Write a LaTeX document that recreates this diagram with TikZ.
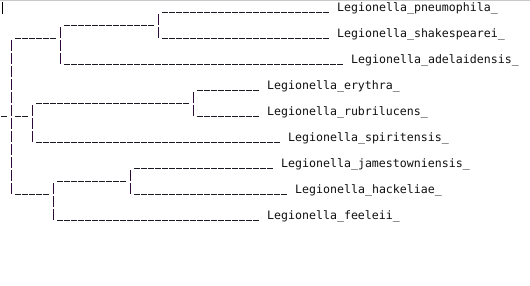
\documentclass[tikz,border=0pt]{standalone}
\usepackage{fontspec}
\setmonofont{DejaVu Sans Mono}
\usetikzlibrary{calc}
\definecolor{treeink}{HTML}{1A1A22}
\definecolor{barink}{HTML}{2E0A36}
\definecolor{textink}{HTML}{111111}
\definecolor{framegray}{HTML}{C8C8C8}

\begin{document}
\begin{tikzpicture}[
    x=7pt, y=-13pt,
    leaf/.style={anchor=base west, inner sep=0pt, yshift=1.5pt, text=textink,
                 font=\ttfamily\fontsize{11.6pt}{13pt}\selectfont},
    uline/.style={draw=treeink, line width=1pt, dash pattern=on 6pt off 1pt},
    vbar/.style={draw=barink, line width=1.2pt, dash pattern=on 11pt off 2pt, dash phase=12pt}
]
    \fill[white] (0pt,0pt) rectangle (530pt,-285pt);
    \useasboundingbox (0pt,0pt) rectangle (530pt,-285pt);
    \draw[framegray, line width=1.4pt] (0pt,-0.7pt) -- (530pt,-0.7pt);
    \draw[black, line width=1.3pt] (2.6pt,-2pt) -- (2.6pt,-14pt);

    % every point sits on the underscore line of its row
    \begin{scope}[xshift=1pt, yshift=-12.5pt]
    % clades: (bar column, row)
    \coordinate (root) at (1,8);
    \coordinate (n1) at (8,2);
    \coordinate (n2) at (22,1);
    \coordinate (n3) at (4,8);
    \coordinate (n4) at (27,7);
    \coordinate (n5) at (7,14);
    \coordinate (n6) at (18,13);

    % tips: (label column, row)
    \coordinate (pneu) at (48,0);
    \coordinate (shak) at (48,2);
    \coordinate (adel) at (50,4);
    \coordinate (eryt) at (38,6);
    \coordinate (rubr) at (38,8);
    \coordinate (spir) at (41,10);
    \coordinate (jame) at (40,12);
    \coordinate (hack) at (42,14);
    \coordinate (feel) at (38,16);
    \end{scope}

    \node[leaf] (pneu-t) at (pneu) {Legionella\_pneumophila\_};
    \node[leaf] (shak-t) at (shak) {Legionella\_shakespearei\_};
    \node[leaf] (adel-t) at (adel) {Legionella\_adelaidensis\_};
    \node[leaf] (eryt-t) at (eryt) {Legionella\_erythra\_};
    \node[leaf] (rubr-t) at (rubr) {Legionella\_rubrilucens\_};
    \node[leaf] (spir-t) at (spir) {Legionella\_spiritensis\_};
    \node[leaf] (jame-t) at (jame) {Legionella\_jamestowniensis\_};
    \node[leaf] (hack-t) at (hack) {Legionella\_hackeliae\_};
    \node[leaf] (feel-t) at (feel) {Legionella\_feeleii\_};

    \draw[uline] (root) ++(-1,0) -- (root);
    \foreach \kid/\mom in {n1/root, n3/root, n5/root, n2/n1, n4/n3, n6/n5}
        \draw[uline] (\kid -| \mom) ++(1,0) -- (\kid);
    \foreach \kid/\mom in {pneu/n2, shak/n2, adel/n1, eryt/n4, rubr/n4,
                           spir/n3, jame/n6, hack/n6, feel/n5}
        \draw[uline] (\kid -| \mom) ++(1,0) -- ([xshift=-7pt]\kid);
    \foreach \mom/\first/\last in {root/n1/n5, n1/n2/adel, n2/pneu/shak, n3/n4/spir,
                                   n4/eryt/rubr, n5/n6/feel, n6/jame/hack}
        \draw[vbar] ($(\mom |- \first)+(3.5pt,-0.5pt)$) -- ($(\mom |- \last)+(3.5pt,-0.5pt)$);
\end{tikzpicture}
\end{document}
